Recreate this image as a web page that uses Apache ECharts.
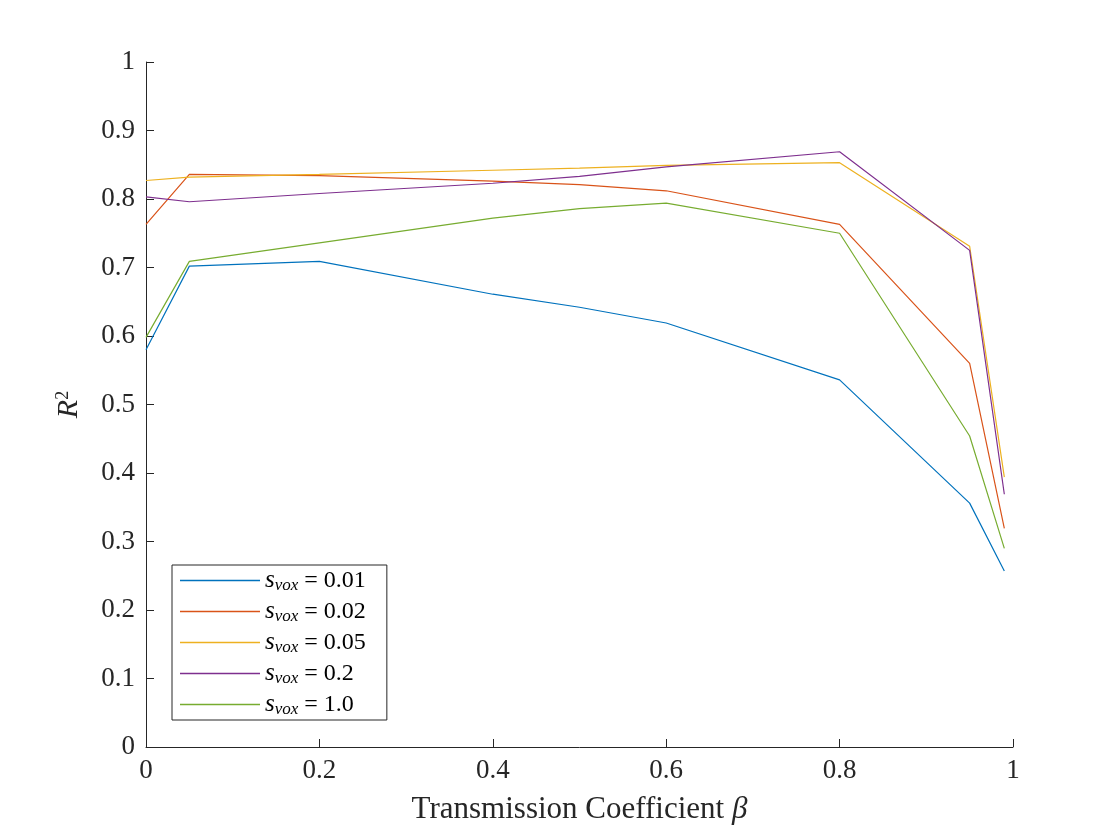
<!DOCTYPE html>
<html>
<head>
<meta charset="utf-8">
<script src="https://cdn.jsdelivr.net/npm/echarts@6/dist/echarts.min.js"></script>
<style>
  html, body { margin: 0; padding: 0; background: #fff; }
  #chart { width: 1120px; height: 840px; }
</style>
</head>
<body>
<div id="chart"></div>
<script>
// transmission coefficient beta
const betaValues = [0, 0.05, 0.2, 0.4, 0.5, 0.6, 0.8, 0.95, 0.99];
// R^2 per voxel size
const r2Vox001 = [0.580, 0.702, 0.709, 0.661, 0.642, 0.619, 0.536, 0.356, 0.257];
const r2Vox002 = [0.763, 0.836, 0.834, 0.826, 0.821, 0.812, 0.763, 0.560, 0.319];
const r2Vox005 = [0.827, 0.832, 0.836, 0.842, 0.845, 0.849, 0.853, 0.731, 0.394];
const r2Vox02  = [0.803, 0.796, 0.808, 0.823, 0.833, 0.847, 0.869, 0.725, 0.369];
const r2Vox1   = [0.598, 0.709, 0.736, 0.772, 0.786, 0.794, 0.750, 0.454, 0.290];
const voxLabels = ["0.01", "0.02", "0.05", "0.2", "1.0"];
const seriesColors = ["#0072BD", "#D95319", "#EDB120", "#7E2F8E", "#77AC30"];

(function() {
    let chart = echarts.init(document.getElementById("chart"));
    let font = "'Liberation Serif', 'DejaVu Serif', serif";
    let allData = [r2Vox001, r2Vox002, r2Vox005, r2Vox02, r2Vox1];

    let series = allData.map(function(vals, i) {
        return {
            name: voxLabels[i],
            type: "line",
            symbol: "none",
            lineStyle: { width: 1.2, color: seriesColors[i] },
            itemStyle: { color: seriesColors[i] },
            data: betaValues.map(function(b, j) { return [b, vals[j]]; })
        };
    });

    let axisLine = { show: true, lineStyle: { color: "#262626", width: 1 } };

    chart.setOption({
        animation: false,
        textStyle: { fontFamily: font },
        grid: { left: 146, right: 107, top: 62, bottom: 93 },
        legend: {
            left: 172,
            top: 565,
            orient: "vertical",
            icon: "rect",
            backgroundColor: "#fff",
            borderColor: "#262626",
            borderWidth: 1,
            borderRadius: 0,
            padding: [3, 21, 2, 8],
            itemGap: 5,
            itemWidth: 80,
            itemHeight: 1.5,
            data: voxLabels,
            formatter: function(name) {
                return "{s|s}{sub|vox}{n| = " + name + "}";
            },
            textStyle: {
                color: "#000",
                rich: {
                    s: { fontFamily: font, fontStyle: "italic", fontSize: 25, color: "#000", height: 26 },
                    sub: { fontFamily: font, fontStyle: "italic", fontSize: 17, color: "#000", verticalAlign: "bottom", padding: [10, 0, 0, 0] },
                    n: { fontFamily: font, fontSize: 24, color: "#000" }
                }
            }
        },
        xAxis: {
            type: "value",
            min: 0,
            max: 1,
            interval: 0.2,
            name: "Transmission Coefficient {b|β}",
            nameLocation: "middle",
            nameGap: 47,
            nameTextStyle: {
                fontFamily: font, fontSize: 31, color: "#262626",
                rich: { b: { fontFamily: font, fontStyle: "italic", fontSize: 31, color: "#262626" } }
            },
            axisLine: axisLine,
            axisTick: { show: true, inside: true, length: 8, lineStyle: { color: "#262626" } },
            axisLabel: { fontFamily: font, fontSize: 27, color: "#262626", margin: 10 },
            splitLine: { show: false }
        },
        yAxis: {
            type: "value",
            min: 0,
            max: 1,
            interval: 0.1,
            name: "{r|R}{sup|2}",
            nameLocation: "middle",
            nameGap: 62,
            nameRotate: 90,
            nameTextStyle: {
                rich: {
                    r: { fontFamily: font, fontStyle: "italic", fontSize: 30, color: "#262626" },
                    sup: { fontFamily: font, fontSize: 18, color: "#262626", verticalAlign: "top", padding: [0, 0, 12, 0] }
                }
            },
            axisLine: axisLine,
            axisTick: { show: true, inside: true, length: 8, lineStyle: { color: "#262626" } },
            axisLabel: { fontFamily: font, fontSize: 27, color: "#262626", margin: 11 },
            splitLine: { show: false }
        },
        series: series
    });
}());
</script>
</body>
</html>
